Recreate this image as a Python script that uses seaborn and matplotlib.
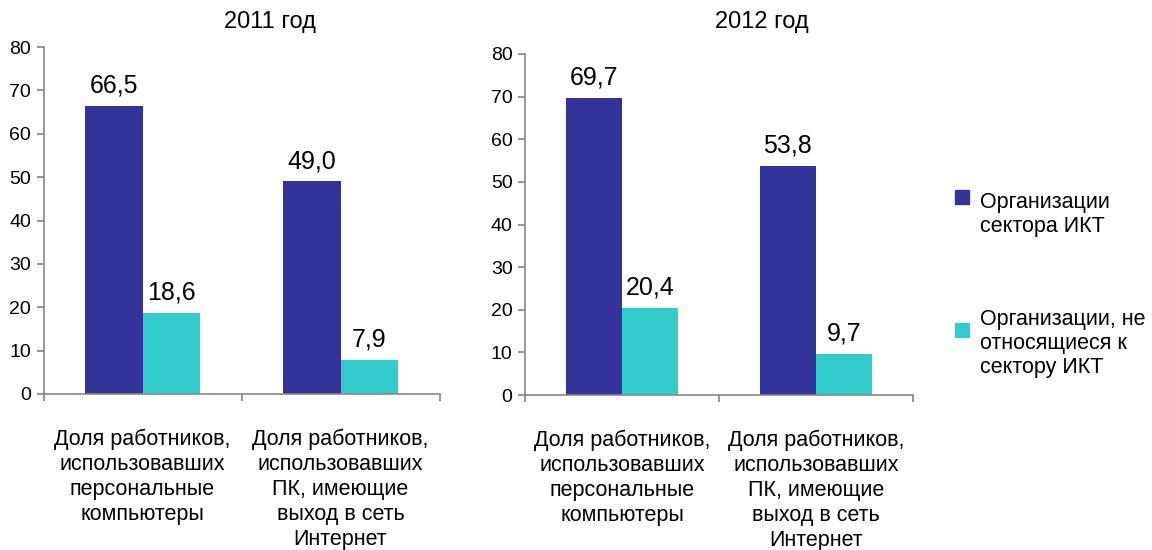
import matplotlib
matplotlib.use('Agg')
import matplotlib.pyplot as plt
from matplotlib.patches import Rectangle
import pandas as pd
import seaborn as sns

# data
years = ['2011 год', '2012 год']
categories = ['Доля работников,\nиспользовавших\nперсональные\nкомпьютеры',
              'Доля работников,\nиспользовавших\nПК, имеющие\nвыход в сеть\nИнтернет']
series = ['Организации\nсектора ИКТ', 'Организации, не\nотносящиеся к\nсектору ИКТ']
ict_values = {'2011 год': [66.5, 49.0], '2012 год': [69.7, 53.8]}
non_ict_values = {'2011 год': [18.6, 7.9], '2012 год': [20.4, 9.7]}
colors = ['#333399', '#33CCCC']

sns.set_theme(style='white')
plt.rcParams['font.family'] = ['Liberation Sans', 'DejaVu Sans']
plt.rcParams['text.color'] = 'black'
plt.rcParams['xtick.labelcolor'] = 'black'
plt.rcParams['ytick.labelcolor'] = 'black'

fig = plt.figure(figsize=(11.52, 5.5), dpi=100)
W, H = 1152, 550
# axes boxes in pixels: left, top, right, bottom
boxes = [(43.5, 47, 439.5, 394), (525, 54, 913, 395)]
title_x = [270, 762]

grey = '#888888'
for year, (l, t, r, b), tx in zip(years, boxes, title_x):
    ax = fig.add_axes([l / W, 1 - b / H, (r - l) / W, (b - t) / H])
    rows = []
    for i, c in enumerate(categories):
        rows.append({'cat': c, 'series': series[0], 'value': ict_values[year][i]})
        rows.append({'cat': c, 'series': series[1], 'value': non_ict_values[year][i]})
    df = pd.DataFrame(rows)
    sns.barplot(data=df, x='cat', y='value', hue='series', palette=colors,
                width=0.58, saturation=1, legend=False, linewidth=0, ax=ax)
    for cont in ax.containers:
        ax.bar_label(cont, labels=[f'{v:.1f}'.replace('.', ',') for v in cont.datavalues],
                     padding=6, fontsize=18, color='black')
    ax.set_xlim(-0.5, 1.5)
    ax.set_ylim(0, 80)
    ax.set_yticks(range(0, 81, 10))
    ax.set_xticks([-0.5, 0.5, 1.5])
    ax.set_xticklabels([])
    ax.set_xticks([0, 1], minor=True)
    ax.set_xticklabels(categories, minor=True, fontsize=15.5, linespacing=1.25, va='top')
    ax.tick_params(axis='x', which='minor', length=0, pad=25)
    ax.tick_params(axis='x', which='major', length=5, color=grey, direction='out', bottom=True)
    ax.tick_params(axis='y', length=5, color=grey, direction='out', left=True,
                   labelsize=14, pad=4)
    ax.set_xlabel('')
    ax.set_ylabel('')
    sns.despine(ax=ax)
    for s in ['left', 'bottom']:
        ax.spines[s].set_color(grey)
        ax.spines[s].set_linewidth(1.2)
    fig.text(tx / W, 1 - 22 / H, year, ha='center', va='center', fontsize=17)

# legend drawn at the right
legend_y = [190, 323]
text_top = [192, 309]
for col, lab, y, tt in zip(colors, series, legend_y, text_top):
    fig.add_artist(Rectangle((955 / W, 1 - (y + 14) / H), 14 / W, 14 / H,
                             transform=fig.transFigure, color=col))
    fig.text(980 / W, 1 - tt / H, lab, ha='left', va='top', fontsize=15.5,
             linespacing=1.2)

fig.savefig('out.png', dpi=100)
